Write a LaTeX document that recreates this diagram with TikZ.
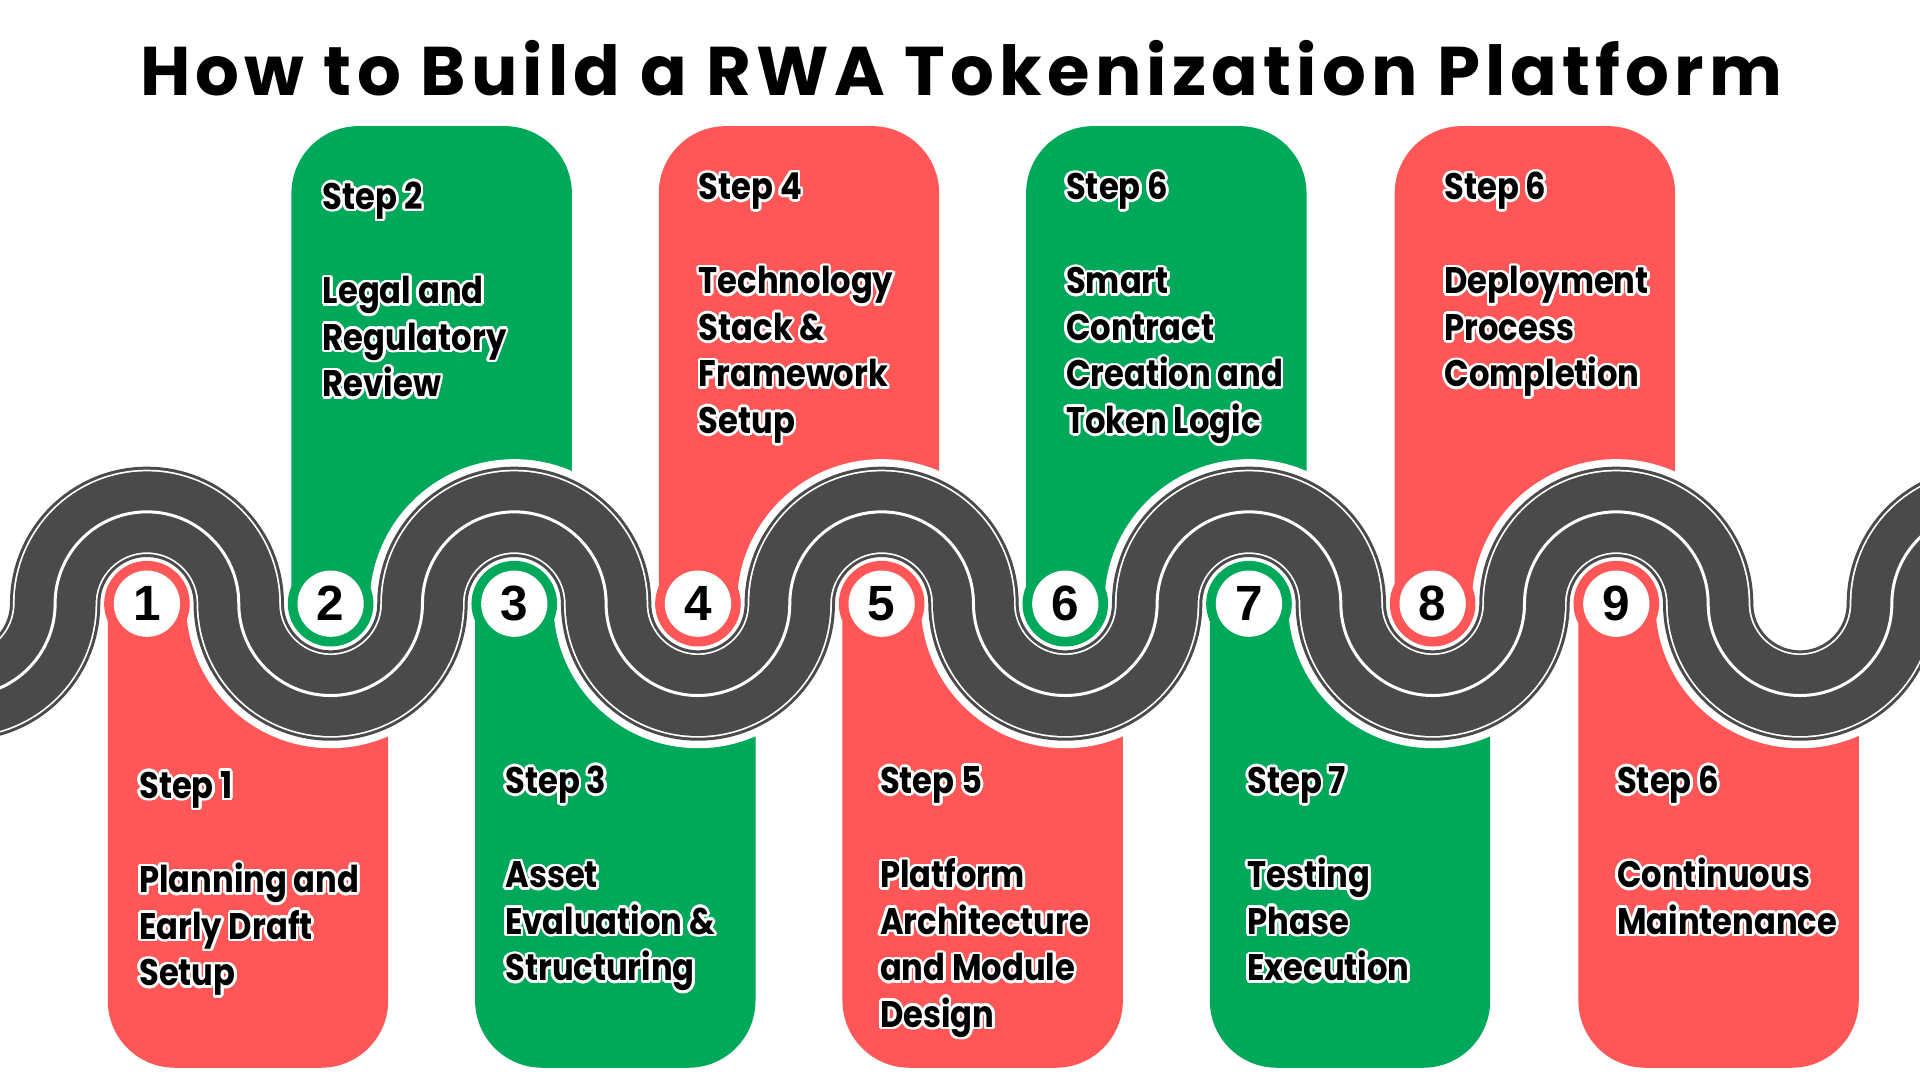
\documentclass[tikz,border=0pt]{standalone}
\usepackage{fontspec}
\setmainfont{Poppins}[FakeStretch=0.87]
\newfontfamily\numfont{Liberation Sans}
\newfontfamily\titlefont[LetterSpace=7.5]{Poppins}
\usepackage[copies]{contour}
\contourlength{0.6pt}
\definecolor{rred}{HTML}{FF5757}
\definecolor{rgreen}{HTML}{00A859}
\definecolor{road}{HTML}{4A4A4A}
\def\roadpath{(-105,493) arc[start angle=180,end angle=0,radius=75]
 arc[start angle=180,end angle=360,radius=75] arc[start angle=180,end angle=0,radius=75]
 arc[start angle=180,end angle=360,radius=75] arc[start angle=180,end angle=0,radius=75]
 arc[start angle=180,end angle=360,radius=75] arc[start angle=180,end angle=0,radius=75]
 arc[start angle=180,end angle=360,radius=75] arc[start angle=180,end angle=0,radius=75]
 arc[start angle=180,end angle=360,radius=75] arc[start angle=180,end angle=0,radius=75]
 arc[start angle=180,end angle=360,radius=75]}
\tikzset{
 steptxt/.style={anchor=base west,inner sep=0,font=\fontsize{8.6pt}{10pt}\selectfont\bfseries},
 num/.style={circle,fill=white,minimum size=15.4pt,inner sep=0,font=\numfont\fontsize{11.5pt}{12pt}\selectfont\bfseries},
 ring/.style={circle,minimum size=19.9pt,inner sep=0},
}
\newcommand\topbox[2]{\fill[#2,rounded corners=15.6pt] (#1,493) [sharp corners] -- (#1,493) [rounded corners=15.6pt] -- (#1,103) -- (#1+229,103) [sharp corners] -- (#1+229,493) -- cycle;}
\newcommand\botbox[2]{\fill[#2] (#1,493) [rounded corners=15.6pt] -- (#1,872) -- (#1+229,872) [sharp corners] -- (#1+229,493) -- cycle;}
\newcommand\steptext[5]{% name, x, y, step, lines
 \node[steptxt] (#1) at (#2,#3+11) {\contour{white}{#4}};
 \foreach \l [count=\i] in {#5} \node[steptxt] (#1-\i) at (#2,#3+11+77+\i*38-38) {\contour{white}{\l}};}
\begin{document}
\begin{tikzpicture}[x=0.1mm,y=-0.1mm]
\useasboundingbox (0,0) rectangle (1568,882);
\clip (0,0) rectangle (1568,882);
\node[inner sep=0,font=\titlefont\fontsize{16pt}{18pt}\selectfont\bfseries] (title) at (785,56) {How to Build a RWA Tokenization Platform};
\topbox{238}{rgreen}\topbox{538}{rred}\topbox{838}{rgreen}\topbox{1139}{rred}
\botbox{88}{rred}\botbox{388}{rgreen}\botbox{688}{rred}\botbox{988}{rgreen}\botbox{1289}{rred}
\fill[white] (1470,493) circle[radius=45];
\draw[white,line width=24.5pt] \roadpath;
\draw[road,line width=21pt] \roadpath;
\draw[white,line width=19.6pt] \roadpath;
\draw[road,line width=18.8pt] \roadpath;
\draw[white,line width=0.7pt] \roadpath;
\foreach \i/\c in {1/rred,2/rgreen,3/rgreen,4/rred,5/rred,6/rgreen,7/rgreen,8/rred,9/rred}
 \node[ring,fill=\c] (r\i) at (120+150*\i-150,493) {};
\foreach \i in {1,...,9} \node[num] (n\i) at (120+150*\i-150,493) {\i};
\steptext{s2}{263}{160}{Step 2}{Legal and,Regulatory,Review}
\steptext{s4}{570}{152}{Step 4}{Technology,Stack \&,Framework,Setup}
\steptext{s6}{870}{152}{Step 6}{Smart,Contract,Creation and,Token Logic}
\steptext{s8}{1179}{152}{Step 6}{Deployment,Process,Completion}
\steptext{s1}{113}{641}{Step 1}{Planning and,Early Draft,Setup}
\steptext{s3}{412}{637}{Step 3}{Asset,Evaluation \&,Structuring}
\steptext{s5}{718}{637}{Step 5}{Platform,Architecture,and Module,Design}
\steptext{s7}{1018}{637}{Step 7}{Testing,Phase,Execution}
\steptext{s9}{1320}{637}{Step 6}{Continuous,Maintenance}
\end{tikzpicture}
\end{document}
